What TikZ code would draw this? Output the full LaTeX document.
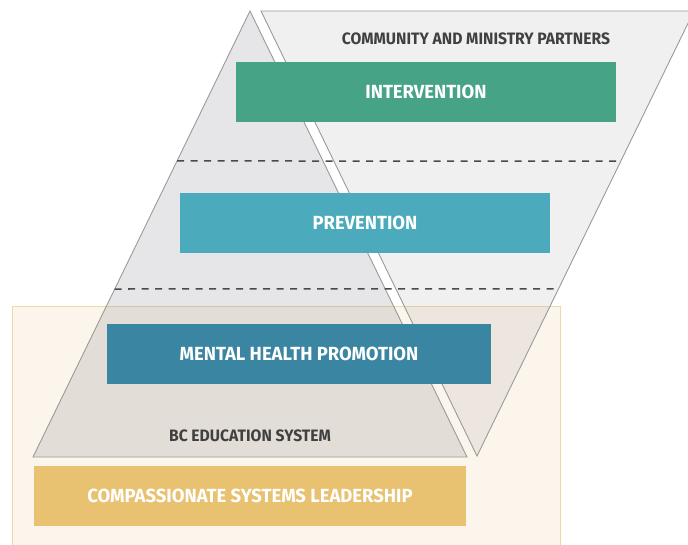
\documentclass[tikz,border=0pt]{standalone}
\usepackage{fontspec}
\usetikzlibrary{calc}
\setmainfont{Fira Sans}[FakeStretch=0.97]
\newfontfamily\labelfont{Fira Sans}[FakeStretch=0.95]
\definecolor{beigefill}{HTML}{FCF5EB}
\definecolor{beigeline}{HTML}{F0D8A6}
\definecolor{trigray}{HTML}{80808A}
\definecolor{triline}{HTML}{9A9A9A}
\definecolor{intgreen}{HTML}{46A386}
\definecolor{prevteal}{HTML}{4BABBD}
\definecolor{mhpblue}{HTML}{3A85A2}
\definecolor{cslgold}{HTML}{E8C270}
\definecolor{labelgray}{HTML}{404040}
\definecolor{dashgray}{HTML}{4A4A4A}
\tikzset{
  levelbox/.style={anchor=center, minimum height=60pt, inner sep=0pt, text=white, font=\fontsize{19}{22}\selectfont\bfseries},
  zonelabel/.style={anchor=center, inner sep=0pt, text=labelgray, font=\labelfont\fontsize{16.5}{19}\selectfont\bfseries},
  levelsep/.style={draw=dashgray, line width=1.5pt, dash pattern=on 7pt off 6.5pt},
  tri/.style={draw=triline, line width=0.9pt, line join=miter}
}
\begin{document}
\begin{tikzpicture}[x=1pt, y=-1pt]
\useasboundingbox (0,0) rectangle (688,544);
% BC education system background
\fill[beigefill] (12,306) rectangle (560,550);
\draw[beigeline, line width=1pt] (12,550) -- (12,306) -- (560,306) -- (560,550);
% triangles
\coordinate (A) at (250,11);
\coordinate (BL) at (33,457);
\coordinate (BR) at (467,457);
\coordinate (IL) at (261,11);
\coordinate (IR) at (694,11);
\coordinate (IB) at (477,456);
\filldraw[tri, fill=trigray, fill opacity=0.12] (IL) -- (IR) -- (IB) -- cycle;
\filldraw[tri, fill=trigray, fill opacity=0.2] (A) -- (BL) -- (BR) -- cycle;
% dashed separators
\coordinate (d1l) at ($(A)!0.3363!(BL)$);
\coordinate (d1r) at ($(IR)!0.3371!(IB)$);
\coordinate (d2l) at ($(A)!0.6233!(BL)$);
\coordinate (d2r) at ($(IR)!0.6247!(IB)$);
\draw[levelsep] (d1l) -- (d1r);
\draw[levelsep] (d2l) -- (d2r);
% level boxes
\node[levelbox, fill=intgreen, minimum width=380pt] (int) at (426,92) {INTERVENTION};
\node[levelbox, fill=prevteal, minimum width=370pt] (prev) at (365,223) {PREVENTION};
\node[levelbox, fill=mhpblue, minimum width=384pt] (mhp) at (299,354) {MENTAL HEALTH PROMOTION};
\node[levelbox, fill=cslgold, minimum width=432pt] (csl) at (250,496) {COMPASSIONATE SYSTEMS LEADERSHIP};
% zone labels
\node[zonelabel] (cmp) at (476,39) {COMMUNITY AND MINISTRY PARTNERS};
\node[zonelabel] (bces) at (250,436) {BC EDUCATION SYSTEM};
\end{tikzpicture}
\end{document}
